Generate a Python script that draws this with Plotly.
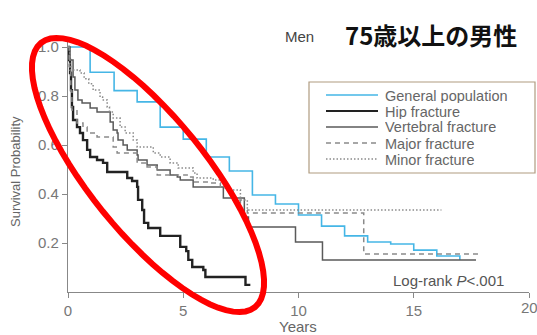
import math
import plotly.graph_objects as go

# ---- data (Kaplan-Meier step curves) ----
gen_t = [0, 0.96, 2, 3, 4, 5, 6, 7, 8, 9, 10, 11, 12, 13, 14, 15, 16, 17]
gen_s = [1.0, 0.897, 0.822, 0.776, 0.673, 0.624, 0.551, 0.494, 0.396, 0.359,
         0.314, 0.269, 0.229, 0.204, 0.196, 0.171, 0.147, 0.131]

hip_t = [0, 0.04, 0.09, 0.13, 0.17, 0.22, 0.39, 0.52, 0.65, 0.83, 0.96, 1.26,
         1.52, 1.70, 2.57, 2.78, 3.0, 3.04, 3.22, 3.30, 3.48, 4.0, 4.87, 5.13,
         5.22, 5.39, 5.87, 5.96, 7.70, 7.91]
hip_s = [1.0, 0.947, 0.894, 0.824, 0.755, 0.702, 0.673, 0.649, 0.620, 0.580,
         0.551, 0.539, 0.527, 0.490, 0.465, 0.453, 0.429, 0.376, 0.335, 0.282,
         0.261, 0.229, 0.184, 0.167, 0.131, 0.102, 0.090, 0.061, 0.029, 0.029]

vert_t = [0, 0.09, 0.22, 0.30, 0.43, 0.61, 0.96, 1.26, 1.83, 1.96, 2.13, 2.17,
          2.39, 2.57, 3.0, 3.04, 3.43, 3.87, 4.43, 4.74, 4.87, 5.43, 6.74,
          7.65, 7.83, 9.87, 11.04, 17.7]
vert_s = [1.0, 0.947, 0.878, 0.824, 0.784, 0.771, 0.751, 0.735, 0.694, 0.661,
          0.649, 0.620, 0.600, 0.580, 0.559, 0.539, 0.518, 0.498, 0.478, 0.469,
          0.457, 0.429, 0.384, 0.306, 0.265, 0.204, 0.131, 0.131]

major_t = [0, 0.05, 0.12, 0.17, 0.39, 0.65, 0.83, 1.26, 1.96, 2.13, 3.0, 3.43,
           3.87, 5.17, 5.43, 6.04, 6.61, 6.91, 7.17, 7.48, 7.78, 12.83, 17.9]
major_s = [1.0, 0.92, 0.82, 0.743, 0.69, 0.673, 0.649, 0.633, 0.592, 0.567,
           0.527, 0.51, 0.478, 0.469, 0.449, 0.445, 0.429, 0.408, 0.376, 0.335,
           0.322, 0.155, 0.155]

minor_t = [0, 0.08, 0.52, 0.7, 0.9, 1.09, 1.39, 1.5, 1.7, 1.8, 1.96, 2.26, 2.48,
           2.83, 3.0, 3.7, 4.0, 4.43, 4.78, 5.43, 5.6, 6.3, 6.74, 7.04, 7.48,
           7.78, 16.2]
minor_s = [1.0, 0.906, 0.894, 0.87, 0.85, 0.824, 0.796, 0.784, 0.755, 0.735,
           0.71, 0.673, 0.649, 0.620, 0.592, 0.567, 0.551, 0.527, 0.506, 0.486,
           0.465, 0.457, 0.424, 0.416, 0.376, 0.335, 0.335]

series_names = ["General population", "Hip fracture", "Vertebral fracture",
                "Major fracture", "Minor fracture"]
x_ticks = [0, 5, 10, 15, 20]
x_ticktext = ["0", "5", "10", "15", ""]
y_ticks = [0.2, 0.4, 0.6, 0.8, 1.0]
y_ticktext = ["0.2", "0.4", "0.6", "0.8", "1.0"]

# ---- styles ----
styles = [
    dict(color="#45b6e6", width=1.6, dash="solid"),
    dict(color="#222222", width=2.4, dash="solid"),
    dict(color="#5a5a5a", width=1.5, dash="solid"),
    dict(color="#8a8a8a", width=1.5, dash="5px,4px"),
    dict(color="#8a8a8a", width=1.5, dash="1.5px,2px"),
]
data = [(gen_t, gen_s), (hip_t, hip_s), (vert_t, vert_s),
        (major_t, major_s), (minor_t, minor_s)]

W, H = 537, 335
L, R, T, B = 68, 8, 42, 43
PW, PH = W - L - R, H - T - B
Y0_PX = 292  # pixel of y=0
Y1_PX = 47   # pixel of y=1
FONT = "Liberation Sans, Arial"


def px(x):
    return (x - L) / PW


def py(y):
    return (H - B - y) / PH


fig = go.Figure()
for (t, s), name, st in zip(data, series_names, styles):
    fig.add_trace(go.Scatter(x=t, y=s, mode="lines", name=name,
                             line=dict(shape="hv", **st), showlegend=False))

shapes = []
annotations = []

# legend box
shapes.append(dict(type="rect", xref="paper", yref="paper",
                   x0=px(309), x1=px(535), y0=py(82), y1=py(173),
                   line=dict(color="#b09c80", width=1.2), fillcolor="white",
                   layer="above"))
rows = [95, 111, 127, 143, 159]
for name, st, ry in zip(series_names, styles, rows):
    shapes.append(dict(type="line", xref="paper", yref="paper",
                       x0=px(326), x1=px(378), y0=py(ry), y1=py(ry),
                       line=dict(color=st["color"], width=min(st["width"], 2.2),
                                 dash=st["dash"]), layer="above"))
    annotations.append(dict(text=name, xref="paper", yref="paper",
                            x=px(383), y=py(ry), xanchor="left", yanchor="middle",
                            showarrow=False, height=15, valign="middle",
                            font=dict(size=14.5, color="#666666", family=FONT)))

# red ellipse highlight
cx, cy, a, b, ang = 148, 175, 170, 58, math.radians(51)
pts = []
for i in range(73):
    th = 2 * math.pi * i / 72
    ex = a * math.cos(th)
    ey = b * math.sin(th)
    X = cx + ex * math.cos(ang) - ey * math.sin(ang)
    Y = cy + ex * math.sin(ang) + ey * math.cos(ang)
    pts.append((px(X), py(Y)))
path = "M " + " L ".join(f"{x:.5f},{y:.5f}" for x, y in pts) + " Z"
shapes.append(dict(type="path", xref="paper", yref="paper", path=path,
                   line=dict(color="#ff0000", width=6), layer="above"))

# titles / labels
annotations += [
    dict(text="Men", xref="paper", yref="paper", x=px(299), y=py(37),
         xanchor="center", yanchor="middle", showarrow=False,
         font=dict(size=15, color="#444444", family=FONT)),
    dict(text="<b>75歳以上の男性</b>", xref="paper", yref="paper", x=px(431), y=py(35),
         xanchor="center", yanchor="middle", showarrow=False,
         font=dict(size=24, color="#111111", family="Noto Sans CJK JP")),
    dict(text="Log-rank <i>P</i><.001", xref="paper", yref="paper", x=px(506), y=py(280),
         xanchor="right", yanchor="middle", showarrow=False,
         font=dict(size=15, color="#555555", family=FONT)),
    dict(text="Years", xref="paper", yref="paper", x=px(298), y=py(326),
         xanchor="center", yanchor="middle", showarrow=False,
         font=dict(size=15, color="#666666", family=FONT)),
    dict(text="Survival Probability", xref="paper", yref="paper", x=px(15), y=py(172),
         xanchor="center", yanchor="middle", showarrow=False, textangle=-90,
         font=dict(size=13, color="#666666", family=FONT)),
    dict(text="20", xref="x", yref="paper", x=x_ticks[-1], y=py(307),
         xanchor="center", yanchor="middle", showarrow=False,
         font=dict(size=15, color="#777777", family=FONT)),
]

fig.update_layout(
    width=W, height=H,
    margin=dict(l=L, r=R, t=T, b=B, pad=0),
    paper_bgcolor="white", plot_bgcolor="white",
    shapes=shapes, annotations=annotations, showlegend=False,
    xaxis=dict(range=[0, 20], tickvals=x_ticks, ticktext=x_ticktext,
               showgrid=False, zeroline=False,
               showline=True, linecolor="#888888", linewidth=1.2,
               ticks="outside", ticklen=5, tickcolor="#888888",
               tickfont=dict(size=15, color="#777777", family=FONT)),
    yaxis=dict(range=[0, 1.0 + (Y1_PX - T) / (Y0_PX - Y1_PX)], tickvals=y_ticks,
               ticktext=y_ticktext, showgrid=False, zeroline=False,
               showline=True, linecolor="#888888", linewidth=1.2,
               ticks="outside", ticklen=5, tickcolor="#888888",
               tickfont=dict(size=15, color="#777777", family=FONT)),
)

fig.write_html("out.html", config={"displayModeBar": False},
               post_script="document.body.style.margin='0';document.body.style.padding='0';")
